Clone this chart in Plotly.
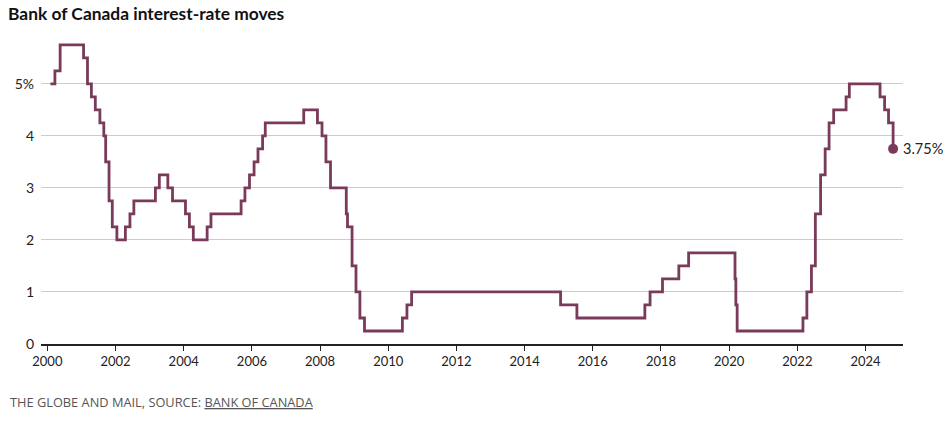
import plotly.graph_objects as go

dates = [
    "2000-02-03", "2000-03-22", "2000-05-17", "2001-01-23", "2001-03-06", "2001-04-17",
    "2001-05-29", "2001-07-17", "2001-08-28", "2001-09-17", "2001-10-23", "2001-11-27",
    "2002-01-15", "2002-04-16", "2002-06-04", "2002-07-16", "2003-03-04", "2003-04-15",
    "2003-07-15", "2003-09-03", "2004-01-20", "2004-03-02", "2004-04-13", "2004-09-08",
    "2004-10-19", "2005-09-07", "2005-10-18", "2005-12-06", "2006-01-24", "2006-03-07",
    "2006-04-25", "2006-05-24", "2007-07-10", "2007-12-04", "2008-01-22", "2008-03-04",
    "2008-04-22", "2008-10-08", "2008-10-21", "2008-12-09", "2009-01-20", "2009-03-03",
    "2009-04-21", "2010-06-01", "2010-07-20", "2010-09-08", "2015-01-21", "2015-07-15",
    "2017-07-12", "2017-09-06", "2018-01-17", "2018-07-11", "2018-10-24", "2020-03-04",
    "2020-03-13", "2020-03-27", "2022-03-02", "2022-04-13", "2022-06-01", "2022-07-13",
    "2022-09-07", "2022-10-26", "2022-12-07", "2023-01-25", "2023-06-07", "2023-07-12",
    "2024-06-05", "2024-07-24", "2024-09-04", "2024-10-23",
]
rates = [
    5.00, 5.25, 5.75, 5.50, 5.00, 4.75,
    4.50, 4.25, 4.00, 3.50, 2.75, 2.25,
    2.00, 2.25, 2.50, 2.75, 3.00, 3.25,
    3.00, 2.75, 2.50, 2.25, 2.00, 2.25,
    2.50, 2.75, 3.00, 3.25, 3.50, 3.75,
    4.00, 4.25, 4.50, 4.25, 4.00, 3.50,
    3.00, 2.50, 2.25, 1.50, 1.00, 0.50,
    0.25, 0.50, 0.75, 1.00, 0.75, 0.50,
    0.75, 1.00, 1.25, 1.50, 1.75, 1.25,
    0.75, 0.25, 0.50, 1.00, 1.50, 2.50,
    3.25, 3.75, 4.25, 4.50, 4.75, 5.00,
    4.75, 4.50, 4.25, 3.75,
]
x_ticks = [f"{y}-01-01" for y in range(2000, 2025, 2)]
x_tick_labels = [str(y) for y in range(2000, 2025, 2)]
y_ticks = [0, 1, 2, 3, 4, 5]
y_tick_labels = ["0", "1", "2", "3", "4", "5%"]

LINE = "#7a3a5a"
FONT = "Lato"

fig = go.Figure()
fig.add_trace(go.Scatter(
    x=dates, y=rates, mode="lines", line=dict(color=LINE, width=2.8, shape="hv"),
    hoverinfo="skip", showlegend=False,
))
fig.add_trace(go.Scatter(
    x=[dates[-1]], y=[rates[-1]], mode="markers",
    marker=dict(color=LINE, size=10), showlegend=False, hoverinfo="skip",
))
fig.add_annotation(
    x=dates[-1], y=rates[-1], text=f"{rates[-1]:.2f}%", showarrow=False,
    xanchor="left", yanchor="middle", xshift=8,
    font=dict(family=FONT, size=14.5, color="#222"),
)

fig.update_layout(
    width=952, height=428,
    margin=dict(l=41, r=49, t=37, b=84),
    plot_bgcolor="white", paper_bgcolor="white",
    title=dict(
        text="<b>Bank of Canada interest-rate moves</b>",
        x=0, xref="container", xanchor="left", y=1, yref="container", yanchor="top",
        pad=dict(t=8, l=8),
        font=dict(family="Liberation Sans Narrow, Lato", size=17.4, color="#111"),
    ),
    xaxis=dict(
        type="date", range=["1999-10-25", "2025-02-06"],
        tickvals=x_ticks, ticktext=x_tick_labels,
        showgrid=False, zeroline=False,
        showline=True, linecolor="#222", linewidth=1.5,
        ticks="outside", ticklen=5, tickcolor="#222", tickwidth=1.2,
        tickfont=dict(family=FONT, size=13, color="#222"),
    ),
    yaxis=dict(
        range=[0, 5.9], tickvals=y_ticks, ticktext=y_tick_labels,
        showgrid=True, gridcolor="#cccccc", gridwidth=1,
        zeroline=False, showline=False, ticks="",
        ticklabelstandoff=6,
        tickfont=dict(family=FONT, size=14, color="#222"),
    ),
)
fig.add_annotation(
    x=0, xref="paper", y=0, yref="paper", yshift=-47, xshift=-33,
    xanchor="left", yanchor="top", showarrow=False,
    text="THE GLOBE AND MAIL, SOURCE: <u>BANK OF CANADA</u>",
    font=dict(family="Open Sans", size=12.8, color="#555"),
)

fig.write_html("out.html", config={"displayModeBar": False},
               post_script="document.body.style.margin='0';")
